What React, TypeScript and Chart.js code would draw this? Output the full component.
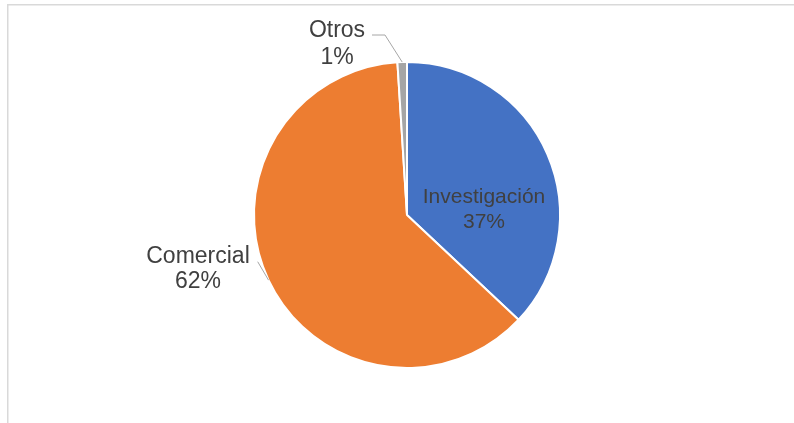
import React, { useEffect, useRef } from "react";
import { Chart, registerables } from "chart.js";

Chart.register(...registerables);

const categories = ["Investigación", "Comercial", "Otros"];
const values = [37, 62, 1];
const colors = ["#4472C4", "#ED7D31", "#A5A5A5"];

const W = 794;
const H = 423;

// label block placement relative to pie center (baselines of the two lines)
const labelLayout = [
  { dx: 77, b1: -12, b2: 12.5, size: 21, leader: null as null | number[][] },
  { dx: -209, b1: 48, b2: 73, size: 23, leader: [[-149.3, 46.7]] },
  { dx: -70, b1: -178, b2: -151, size: 23, leader: [[-22, -180], [-35, -180]] },
];

const labelPlugin = {
  id: "pieLabels",
  beforeDraw(chart: any) {
    const ctx = chart.ctx;
    ctx.save();
    ctx.strokeStyle = "#D9D9D9";
    ctx.lineWidth = 1.5;
    ctx.beginPath();
    ctx.moveTo(7.75, H);
    ctx.lineTo(7.75, 4.75);
    ctx.lineTo(W, 4.75);
    ctx.stroke();
    ctx.restore();
  },
  afterDatasetsDraw(chart: any) {
    const ctx = chart.ctx;
    const meta = chart.getDatasetMeta(0);
    const total = values.reduce((a, b) => a + b, 0);
    ctx.save();
    meta.data.forEach((arc: any, i: number) => {
      const cx = arc.x;
      const cy = arc.y;
      const L = labelLayout[i];
      if (L.leader) {
        const mid = (arc.startAngle + arc.endAngle) / 2;
        const sx = cx + Math.cos(mid) * arc.outerRadius;
        const sy = cy + Math.sin(mid) * arc.outerRadius;
        ctx.strokeStyle = "#A6A6A6";
        ctx.lineWidth = 1;
        ctx.beginPath();
        ctx.moveTo(sx, sy);
        L.leader.forEach((p) => ctx.lineTo(cx + p[0], cy + p[1]));
        ctx.stroke();
      }
      ctx.fillStyle = "#404040";
      ctx.font = `${L.size}px "Liberation Sans", Arial, sans-serif`;
      ctx.textAlign = "center";
      ctx.textBaseline = "alphabetic";
      const pct = Math.round((values[i] / total) * 100) + "%";
      ctx.fillText(categories[i], cx + L.dx, cy + L.b1);
      ctx.fillText(pct, cx + L.dx, cy + L.b2);
    });
    ctx.restore();
  },
};

export default function App() {
  const ref = useRef<HTMLCanvasElement | null>(null);
  useEffect(() => {
    if (!ref.current) return;
    const chart = new Chart(ref.current, {
      type: "pie",
      data: {
        labels: categories,
        datasets: [
          {
            data: values,
            backgroundColor: colors,
            borderColor: "#FFFFFF",
            borderWidth: 2,
          },
        ],
      },
      options: {
        responsive: false,
        animation: false,
        layout: { padding: { top: 61, bottom: 54, left: 253, right: 233 } },
        plugins: {
          legend: { display: false },
          tooltip: { enabled: false },
        },
      },
      plugins: [labelPlugin],
    });
    return () => chart.destroy();
  }, []);
  return (
    <div style={{ position: "absolute", left: 0, top: 0, width: W, height: H, overflow: "hidden", background: "#fff" }}>
      <canvas ref={ref} width={W} height={H} style={{ width: W, height: H, display: "block" }} />
    </div>
  );
}
